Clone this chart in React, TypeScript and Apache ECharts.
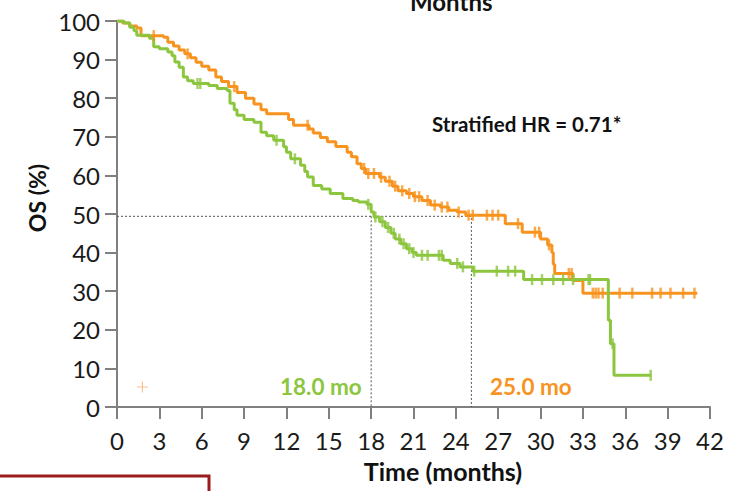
import React, { useEffect, useRef } from "react";
import * as echarts from "echarts";

const xTicks = [0, 3, 6, 9, 12, 15, 18, 21, 24, 27, 30, 33, 36, 39, 42];
const yTicks = [0, 10, 20, 30, 40, 50, 60, 70, 80, 90, 100];

// Kaplan-Meier event points [month, OS %]
const orangeSteps: number[][] = [
  [0, 100], [0.4, 99.5], [0.9, 98.7], [1.4, 98.2], [1.7, 96.2], [3.3, 95.8], [3.6, 94.5], [4.0, 93.5],
  [4.4, 92.5], [4.8, 91.5], [5.2, 90.5], [5.6, 89.3], [6.0, 88.3], [6.5, 87.3], [7.0, 85.5], [7.4, 84.3],
  [7.9, 83], [8.5, 81.5], [9.1, 80], [9.7, 78.5], [10.2, 77], [10.6, 76], [12.15, 74.5], [12.5, 73],
  [13.6, 72], [13.9, 71], [14.4, 69.8], [14.9, 68.7], [15.5, 67.5], [16.3, 66], [16.6, 64.8], [17.0, 63],
  [17.3, 61.8], [17.6, 60.5], [18.6, 59.5], [19.0, 58.5], [19.5, 57.2], [19.9, 56], [20.5, 55.3],
  [21.0, 54.5], [21.6, 53.5], [22.2, 52.3], [22.9, 51.8], [23.5, 51], [24.1, 50.5], [24.7, 49.7],
  [27.5, 47.5], [28.7, 45.3], [30.0, 43.5], [30.5, 42], [30.8, 40], [30.9, 37], [31.0, 34.6],
  [32.3, 32.8], [33.0, 29.5], [41.1, 29.5]
];

const greenSteps: number[][] = [
  [0, 100], [0.5, 99.5], [0.9, 98.4], [1.2, 97.5], [1.4, 96.3], [2.3, 95.5], [2.6, 93.3], [3.0, 92.8],
  [3.6, 92], [3.9, 91], [4.1, 89.4], [4.4, 88], [4.7, 85.5], [5.0, 84.5], [5.4, 83.8], [6.5, 83.3],
  [7.1, 82.5], [7.8, 82], [8.0, 78.7], [8.3, 77], [8.5, 75.6], [9.0, 74.5], [9.7, 73.8], [10.2, 71.2],
  [10.6, 70.3], [11.1, 69.1], [11.8, 67.4], [12.0, 66], [12.3, 64.3], [13.0, 62.6], [13.3, 61],
  [13.5, 59.6], [13.9, 57.4], [14.5, 56.5], [15.1, 55.3], [16.0, 54], [16.7, 53.5], [17.1, 53.1],
  [17.7, 52.5], [18.0, 50.5], [18.2, 49.2], [18.6, 48], [19.0, 46.5], [19.4, 45], [19.7, 43.5],
  [20.1, 42.3], [20.5, 41], [20.9, 40], [21.2, 39.3], [23.1, 38], [23.6, 37.2], [24.3, 36.3],
  [25.2, 35.2], [28.8, 33], [34.8, 22.5], [34.95, 16.4], [35.2, 8.2], [37.8, 8.2]
];

const orangeCensor: number[][] = [
  [2.6, 96.2], [5.0, 91.5], [8.3, 83], [13.5, 73], [17.5, 61.8], [17.8, 60.5], [18.2, 60.5], [18.7, 59.5],
  [19.3, 58.5], [19.7, 57.2], [20.2, 56], [20.7, 55.3], [21.1, 54.5], [21.4, 54.5], [22.0, 53.5],
  [22.5, 52.3], [23.0, 51.8], [23.4, 51.8], [24.2, 50.5], [24.9, 49.7], [25.2, 49.7], [26.2, 49.7],
  [26.6, 49.7], [27.0, 49.7], [28.4, 47.5], [29.6, 45.3], [29.9, 45.3], [30.6, 42], [32.0, 34.6],
  [32.2, 34.6], [33.7, 29.5], [33.9, 29.5], [34.1, 29.5], [34.4, 29.5], [35.6, 29.5], [36.5, 29.5],
  [37.9, 29.5], [38.5, 29.5], [39.2, 29.5], [40.1, 29.5], [40.9, 29.5]
];

const greenCensor: number[][] = [
  [5.7, 83.8], [5.9, 83.8], [11.3, 69.1], [12.6, 64.3], [17.8, 52.5], [18.3, 49.2], [18.8, 48],
  [19.2, 46.5], [19.6, 45], [20.0, 43.5], [20.3, 42.3], [20.7, 41], [21.0, 40], [21.6, 39.3],
  [22.0, 39.3], [22.8, 39.3], [23.0, 39.3], [24.1, 37.2], [24.5, 36.3], [25.3, 35.2], [26.9, 35.2],
  [27.7, 35.2], [28.2, 35.2], [29.4, 33], [30.1, 33], [30.9, 33], [31.6, 33], [32.3, 33], [33.4, 33],
  [33.5, 33], [35.1, 16.4], [37.8, 8.2]
];

const medianY = 49.4;
const medianGreen = 18.0;
const medianOrange = 25.1;
const legendMark: number[][] = [[1.8, 5.2]];

const ORANGE = "#F7931E";
const GREEN = "#8CC63F";
const FONT = "Lato";

export default function App() {
  const ref = useRef<HTMLDivElement>(null);
  useEffect(() => {
    document.body.style.margin = "0";
    const chart = echarts.init(ref.current!, null, { renderer: "svg" });
    chart.setOption({
      animation: false,
      backgroundColor: "#ffffff",
      grid: { left: 117, right: 22, top: 21, bottom: 84 },
      xAxis: {
        type: "value",
        min: 0,
        max: 42,
        interval: 3,
        splitLine: { show: false },
        axisLine: { lineStyle: { color: "#808080", width: 2 } },
        axisTick: { show: true, length: 12, lineStyle: { color: "#808080", width: 2 } },
        axisLabel: {
          margin: 21,
          fontSize: 24,
          color: "#1a1a1a",
          fontFamily: FONT,
          formatter: (v: number) => (xTicks.includes(v) ? String(v) : ""),
        },
      },
      yAxis: {
        type: "value",
        min: 0,
        max: 100,
        interval: 10,
        splitLine: { show: false },
        axisLine: { show: true, lineStyle: { color: "#808080", width: 2 } },
        axisTick: { show: true, length: 12, lineStyle: { color: "#808080", width: 2 } },
        axisLabel: {
          margin: 17,
          fontSize: 24,
          color: "#1a1a1a",
          fontFamily: FONT,
          formatter: (v: number) => (yTicks.includes(v) ? String(v) : ""),
        },
      },
      series: [
        {
          type: "line",
          data: [[0, medianY], [medianOrange, medianY], [medianOrange, 0]],
          symbol: "none",
          lineStyle: { color: "#555", width: 1, type: [2, 2] },
          z: 1,
        },
        {
          type: "line",
          data: [[medianGreen, medianY], [medianGreen, 0]],
          symbol: "none",
          lineStyle: { color: "#555", width: 1, type: [2, 2] },
          z: 1,
        },
        {
          type: "line",
          step: "end",
          data: orangeSteps,
          symbol: "none",
          lineStyle: { color: ORANGE, width: 3 },
          z: 3,
        },
        {
          type: "line",
          step: "end",
          data: greenSteps,
          symbol: "none",
          lineStyle: { color: GREEN, width: 3 },
          z: 4,
        },
        {
          type: "scatter",
          data: orangeCensor,
          symbol: "rect",
          symbolSize: [2.5, 11],
          itemStyle: { color: ORANGE },
          z: 5,
        },
        {
          type: "scatter",
          data: greenCensor,
          symbol: "rect",
          symbolSize: [2.5, 11],
          itemStyle: { color: GREEN },
          z: 6,
        },
        {
          type: "scatter",
          data: legendMark,
          symbol: "path://M4.5,0h1v10h-1z M0,4.5h10v1h-10z",
          symbolSize: 11,
          itemStyle: { color: "rgba(240,160,90,0.85)" },
          z: 6,
        },
      ],
      graphic: [
        {
          type: "text",
          x: 443,
          y: 471,
          style: {
            text: "Time (months)", fontSize: 25, fontWeight: "bold", fill: "#111", fontFamily: FONT,
            align: "center", verticalAlign: "middle",
          },
        },
        {
          type: "text",
          x: 37,
          y: 198,
          rotation: Math.PI / 2,
          style: {
            text: "OS (%)", fontSize: 23, fontWeight: "bold", fill: "#111", fontFamily: FONT,
            align: "center", verticalAlign: "middle",
          },
        },
        {
          type: "text",
          left: 432,
          top: 113,
          style: { text: "Stratified HR = 0.71*", fontSize: 20.5, fontWeight: "bold", fill: "#111", fontFamily: FONT },
        },
        {
          type: "text",
          left: 280,
          top: 375,
          style: { text: "18.0 mo", fontSize: 22.5, fontWeight: "bold", fill: GREEN, fontFamily: FONT },
        },
        {
          type: "text",
          left: 490,
          top: 375,
          style: { text: "25.0 mo", fontSize: 22.5, fontWeight: "bold", fill: ORANGE, fontFamily: FONT },
        },
        {
          type: "text",
          x: 410,
          y: 13,
          style: { text: "Months", fontSize: 24, fontWeight: "bold", fill: "#111", fontFamily: FONT, verticalAlign: "bottom" },
        },
        {
          type: "rect",
          shape: { x: -5, y: 476, width: 214, height: 40 },
          style: { fill: "none", stroke: "#9B1C1C", lineWidth: 3 },
        },
      ],
    });
    return () => chart.dispose();
  }, []);
  return <div ref={ref} style={{ width: 732, height: 491 }} />;
}
